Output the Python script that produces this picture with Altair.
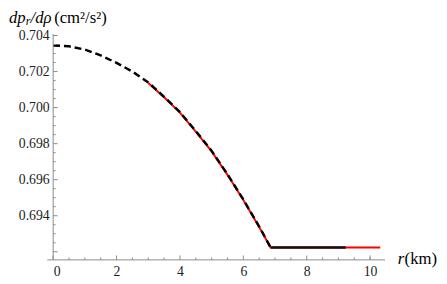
import altair as alt
import pandas as pd

# ---- data ----
r_curve = [0, 0.5, 1, 1.5, 2, 2.5, 3, 3.5, 4, 4.5, 5, 5.5, 6, 6.5, 6.86]
v_curve = [0.70345, 0.70340, 0.70322, 0.70290, 0.70248, 0.70200, 0.70140,
           0.70060, 0.69975, 0.69870, 0.69760, 0.69630, 0.69490, 0.69340, 0.69224]

r_red = [3.0, 3.5, 4, 4.5, 5, 5.5, 6, 6.5, 6.86, 10.32]
v_red = [0.70137, 0.70057, 0.69972, 0.69867, 0.69757, 0.69627, 0.69487,
         0.69337, 0.69224, 0.69224]

r_flat = [6.86, 9.23]
v_flat = [0.69224, 0.69224]

x_major = [0, 2, 4, 6, 8, 10]
x_minor = [0.5, 1, 1.5, 2.5, 3, 3.5, 4.5, 5, 5.5, 6.5, 7, 7.5, 8.5, 9, 9.5, 10]
y_major = [0.692, 0.694, 0.696, 0.698, 0.700, 0.702, 0.704]
y_labels = [0.694, 0.696, 0.698, 0.700, 0.702, 0.704]
y_minor = [0.6920 + 0.0005 * i for i in range(0, 25) if i % 4 != 0]

X_DOMAIN = [0, 10.47]
Y_DOMAIN = [0.69155, 0.70408]
W, H = 338, 230

FONT = "Liberation Serif"
AXIS_COLOR = "#8a8a8a"

xs = alt.Scale(domain=X_DOMAIN, nice=False, zero=False)
ys = alt.Scale(domain=Y_DOMAIN, nice=False, zero=False)

red_df = pd.DataFrame({"r": r_red, "v": v_red})
curve_df = pd.DataFrame({"r": r_curve, "v": v_curve})
flat_df = pd.DataFrame({"r": r_flat, "v": v_flat})

red = alt.Chart(red_df).mark_line(color="#ff0000", strokeWidth=2).encode(
    x=alt.X("r:Q", scale=xs,
            axis=alt.Axis(values=x_major, domain=False, ticks=False, grid=False,
                          labelFont=FONT, labelFontSize=14, labelColor="#222",
                          labelPadding=5, title=None, format="d")),
    y=alt.Y("v:Q", scale=ys,
            axis=alt.Axis(values=y_labels, domain=False, ticks=False, grid=False,
                          labelFont=FONT, labelFontSize=14, labelColor="#222",
                          labelPadding=4, title=None, format=".3f")),
)

dashed = alt.Chart(curve_df).mark_line(color="#000000", strokeWidth=2.5,
                                        strokeDash=[7, 4]).encode(
    x=alt.X("r:Q", scale=xs), y=alt.Y("v:Q", scale=ys))

flat = alt.Chart(flat_df).mark_line(color="#111111", strokeWidth=2.5).encode(
    x=alt.X("r:Q", scale=xs), y=alt.Y("v:Q", scale=ys))

dummy = pd.DataFrame({"a": [0]})

x_axis_line = alt.Chart(dummy).mark_rule(color=AXIS_COLOR, strokeWidth=1).encode(
    x=alt.value(-6), x2=alt.value(W), y=alt.value(H))
y_axis_line = alt.Chart(dummy).mark_rule(color=AXIS_COLOR, strokeWidth=1).encode(
    x=alt.value(0), y=alt.value(0), y2=alt.value(H))

xmaj = alt.Chart(pd.DataFrame({"t": x_major})).mark_rule(color=AXIS_COLOR).encode(
    x=alt.X("t:Q", scale=xs), y=alt.value(H), y2=alt.value(H - 4.5))
xmin = alt.Chart(pd.DataFrame({"t": x_minor})).mark_rule(color=AXIS_COLOR).encode(
    x=alt.X("t:Q", scale=xs), y=alt.value(H), y2=alt.value(H - 2.5))
ymaj = alt.Chart(pd.DataFrame({"t": y_major})).mark_rule(color=AXIS_COLOR).encode(
    y=alt.Y("t:Q", scale=ys), x=alt.value(0), x2=alt.value(4.5))
ymin = alt.Chart(pd.DataFrame({"t": y_minor})).mark_rule(color=AXIS_COLOR).encode(
    y=alt.Y("t:Q", scale=ys), x=alt.value(0), x2=alt.value(2.5))

OX, OY = 54, 32  # page position of the plot origin


def txt(s, px, py, size=16, italic=False, align="left"):
    kw = dict(text=s, font=FONT, fontSize=size, align=align)
    if italic:
        kw["fontStyle"] = "italic"
    return alt.Chart(dummy).mark_text(**kw).encode(
        x=alt.value(px - OX), y=alt.value(py - OY))


titles = [
    txt("dp", 9, 16, 17, True),
    txt("r", 26, 19, 12, True),
    txt("/dρ", 31, 16, 17, True),
    txt("(cm²/s²)", 55, 16, 17, False),
    txt("r", 405, 261, 17, True),
    txt("(km)", 445, 261, 17, False, "right"),
]

chart = alt.layer(
    red, dashed, flat, x_axis_line, y_axis_line, xmaj, xmin, ymaj, ymin, *titles
).properties(
    width=W, height=H,
    padding={"left": OX - 8, "top": OY - 8, "right": 439 - (OX - 8) - W,
             "bottom": 276 - (OY - 8) - H},
    autosize=alt.AutoSizeParams(type="none"),
    background="white",
).configure_view(strokeWidth=0)

chart.save("out.html", embed_options={"renderer": "svg", "actions": False})
